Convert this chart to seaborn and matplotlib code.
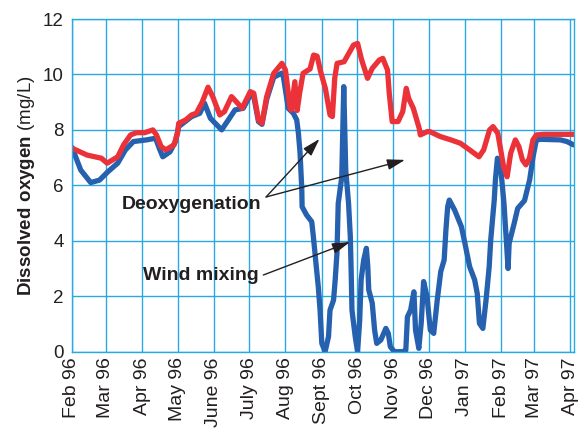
import matplotlib
matplotlib.use("Agg")
import matplotlib.pyplot as plt
import numpy as np
import pandas as pd
import seaborn as sns

start = pd.Timestamp("1996-02-01")

# days after 1 Feb 1996 and dissolved oxygen (mg/L)
blue_days = [0, 7.5, 16, 23.5, 30.6, 39, 45.6, 52.4, 63.7, 71.3, 74.4, 77.4, 83.6, 88.2,
             91, 102, 109, 113, 118, 127.6, 133.3, 139, 146, 152, 155, 159, 162, 166, 172,
             179, 180, 184.4, 188.7, 191.6, 193, 194.4, 195.9, 196.2, 200, 204.4, 205.8,
             208, 210, 211.5, 213, 215.8, 218.7, 220, 223, 224.4, 225.9, 227, 230, 231.7,
             233.4, 235.8, 237.3, 238, 238.7, 241.5, 243.5, 245.3, 246.5, 248.7, 251,
             252.2, 253, 256, 258, 259.8, 263.3, 267.6, 269.7, 271.4, 274.8, 281.8, 284.6,
             286, 288.7, 291.5, 292.9, 295.7, 297.7, 299.8, 302.7, 305.5, 308.4, 311.4,
             314.4, 317.3, 318.8, 320.3, 321.7, 326.2, 332, 335, 339, 343.3, 345.5, 347.4,
             350.3, 353, 355.7, 357, 358.5, 360, 361, 362.7, 365.4, 368.3, 371.8, 372.7,
             377, 380, 385.8, 390.2, 393.1, 395.9, 400, 416.4, 422, 427.5]
blue_do = [7.37, 6.55, 6.1, 6.19, 6.49, 6.8, 7.28, 7.58, 7.64, 7.7, 7.34, 7.03, 7.21, 7.58,
           8.12, 8.48, 8.6, 8.96, 8.42, 8.0, 8.36, 8.72, 8.78, 9.25, 9.2, 8.3, 8.2, 9.1, 9.9,
           10.05, 9.98, 8.78, 8.6, 8.36, 7.9, 7.2, 5.9, 5.23, 4.93, 4.69, 4.15,
           3.19, 2.34, 1.5, 0.3, 0.0, 0.54, 1.5, 1.86, 2.59, 3.55, 5.35, 6.3, 9.56,
           6.55, 5.35, 4.15, 2.95, 1.5, 0.54, 0.0, 1.14, 2.59, 3.31, 3.73,
           3.07, 2.23, 1.75, 0.78, 0.3, 0.42, 0.84, 0.66, 0.18, 0.0, 0.0, 0.05,
           1.26, 1.5, 2.16, 0.78, 0.12, 1.02, 2.53, 1.98, 0.78, 0.66, 1.86,
           2.89, 3.31, 4.39, 5.23, 5.47, 5.11, 4.51, 3.91, 3.07, 2.59, 2.1, 1.02,
           0.84, 1.86, 3.07, 4.03, 4.75, 5.47, 6.2, 6.98, 6.67, 5.35, 3.0, 3.91,
           4.63, 5.17, 5.45, 6.2, 7.03, 7.64, 7.66, 7.64, 7.58, 7.46]

red_days = [0, 13, 25, 30, 39, 44, 50, 55, 62, 69, 72, 76, 80, 87, 90, 91, 97, 102, 106,
            111, 116, 120, 126, 130, 136, 140, 145, 152, 155, 159, 162, 166, 172, 179,
            182, 186, 187, 190, 192, 194, 197, 203, 206, 209, 212, 216, 220, 222, 224,
            226, 232, 236, 240, 243.5, 247, 252, 256, 262, 265, 269, 270.5, 273, 278,
            282, 285, 287, 291, 296, 297, 303, 305, 314, 323, 331, 339, 347, 351, 356,
            359, 363, 365, 368, 371, 374, 378, 381, 384, 387, 390, 393, 396, 402.7, 427.5]
red_do = [7.34, 7.09, 6.98, 6.8, 7.03, 7.46, 7.82, 7.9, 7.9, 8.0, 7.82, 7.4, 7.28, 7.46,
          7.88, 8.24, 8.36, 8.54, 8.6, 9.0, 9.54, 9.2, 8.54, 8.66, 9.2, 9.02, 8.78, 9.38,
          9.32, 8.36, 8.24, 9.2, 10.04, 10.4, 10.16, 8.78, 8.72, 9.74, 8.7, 9.3, 10.04,
          10.2, 10.7, 10.66, 10.1, 9.5, 8.54, 8.48, 9.86, 10.4, 10.46, 10.76, 11.06,
          11.12, 10.52, 9.86, 10.22, 10.52, 10.58, 10.16, 9.32, 8.3, 8.3, 8.66, 9.5,
          9.14, 8.78, 8.06, 7.82, 7.94, 7.94, 7.76, 7.64, 7.52, 7.28, 7.03, 7.28, 8.0,
          8.12, 7.88, 7.4, 6.67, 6.31, 7.16, 7.64, 7.4, 6.92, 6.74, 6.98, 7.64, 7.82,
          7.84, 7.84]

month_labels = ["Feb 96", "Mar 96", "Apr 96", "May 96", "June 96", "July 96", "Aug 96",
                "Sept 96", "Oct 96", "Nov 96", "Dec 96", "Jan 97", "Feb 97", "Mar 97",
                "Apr 97"]

sns.set_style("white")
plt.rcParams["font.family"] = ["Liberation Sans", "DejaVu Sans"]
plt.rcParams["mathtext.fontset"] = "custom"
plt.rcParams["mathtext.rm"] = "Liberation Sans"
plt.rcParams["mathtext.bf"] = "Liberation Sans:bold"

df_blue = pd.DataFrame({"date": start + pd.to_timedelta(blue_days, unit="D"), "do": blue_do})
df_red = pd.DataFrame({"date": start + pd.to_timedelta(red_days, unit="D"), "do": red_do})

grid_color = "#29A9E1"
text_color = "#231F20"

fig = plt.figure(figsize=(5.88, 4.28), dpi=100)
ax = fig.add_axes([0.1224, 0.1783, 0.853, 0.7773])

sns.lineplot(data=df_blue, x="date", y="do", ax=ax, color="#2561AE", linewidth=3.8,
             estimator=None, sort=False, solid_joinstyle="round")
sns.lineplot(data=df_red, x="date", y="do", ax=ax, color="#EC3239", linewidth=3.8,
             estimator=None, sort=False, solid_joinstyle="round")

ticks = pd.date_range("1996-02-01", "1997-04-01", freq="MS")
ax.set_xticks(ticks)
ax.set_xticklabels(month_labels, rotation=90)
ax.set_xlim(start, start + pd.Timedelta(days=427.6))
ax.set_ylim(0, 12)
ax.set_yticks(range(0, 13, 2))
ax.grid(True, color=grid_color, linewidth=1.0)
ax.set_axisbelow(True)
for s in ax.spines.values():
    s.set_color(grid_color)
    s.set_linewidth(1.0)
ax.tick_params(axis="both", length=0, colors=text_color)
ax.tick_params(axis="y", pad=6, labelsize=13.5)
ax.tick_params(axis="x", pad=4, labelsize=14)
ax.set_xlabel("")
ax.set_ylabel(r"$\mathbf{Dissolved\ oxygen}$ (mg/L)", fontsize=13.5, color=text_color, labelpad=4)

# annotations
arrow = dict(arrowstyle="-|>,head_length=0.6,head_width=0.18", color=text_color, lw=1.0,
             shrinkA=0, shrinkB=0, mutation_scale=18)
ax.text(0.239, 0.429, "Deoxygenation", transform=ax.transAxes, ha="center", va="baseline",
        fontsize=14, fontweight="bold", color=text_color)
ax.annotate("", xy=(0.4935, 0.6395), xytext=(0.387, 0.465), xycoords="axes fraction",
            textcoords="axes fraction", arrowprops=arrow)
ax.annotate("", xy=(0.664, 0.5765), xytext=(0.387, 0.465), xycoords="axes fraction",
            textcoords="axes fraction", arrowprops=arrow)
ax.text(0.257, 0.2155, "Wind mixing", transform=ax.transAxes, ha="center", va="baseline",
        fontsize=14, fontweight="bold", color=text_color)
ax.annotate("", xy=(0.5544, 0.3297), xytext=(0.3815, 0.2305), xycoords="axes fraction",
            textcoords="axes fraction", arrowprops=arrow)

fig.savefig("out.png", dpi=100)
